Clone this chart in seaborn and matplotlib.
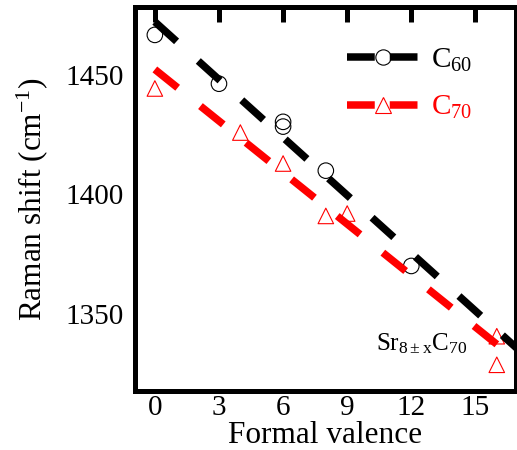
import matplotlib
matplotlib.use("Agg")
import matplotlib.pyplot as plt
from matplotlib.lines import Line2D
import numpy as np
import pandas as pd
import seaborn as sns

# measured points (formal valence vs Raman shift)
valence_c60 = [0, 3, 6, 6, 8, 12]
shift_c60 = [1467, 1446.5, 1430.5, 1428.5, 1410, 1370]
valence_c70 = [0, 4, 6, 8, 9, 16, 16]
shift_c70 = [1444.5, 1426, 1413, 1391, 1392, 1340.5, 1328.5]

# linear fits, end points
fit_x = [0, 17.5]
fit_c60 = [1472.5, 1330.9]
fit_c70 = [1452.5, 1326.3]

x_ticks = [0, 3, 6, 9, 12, 15]
y_ticks = [1350, 1400, 1450]

sns.set_theme(style="white")
plt.rcParams["font.family"] = ["Liberation Serif", "DejaVu Serif"]
plt.rcParams["mathtext.fontset"] = "custom"
plt.rcParams["mathtext.rm"] = "Liberation Serif"
plt.rcParams["mathtext.it"] = "Liberation Serif"
plt.rcParams["mathtext.default"] = "regular"
for key in ["text.color", "axes.labelcolor", "xtick.color", "ytick.color",
            "axes.edgecolor"]:
    plt.rcParams[key] = "black"

fig = plt.figure(figsize=(5.17, 4.5), dpi=100)
ax = fig.add_axes([0.2611, 0.1311, 0.737, 0.8533])

lw = 5.4
dash = (0, (3.9, 3.9))

sns.scatterplot(x=valence_c60, y=shift_c60, ax=ax, marker="o", s=125,
                facecolor="none", edgecolor="black", linewidth=0.8,
                zorder=2, legend=False)
sns.scatterplot(x=valence_c70, y=shift_c70, ax=ax, marker="^", s=125,
                facecolor="none", edgecolor="red", linewidth=0.8,
                zorder=2, legend=False)

sns.lineplot(x=fit_x, y=fit_c60, ax=ax, color="black", linewidth=lw,
             linestyle=dash, zorder=3, legend=False)
sns.lineplot(x=fit_x, y=fit_c70, ax=ax, color="red", linewidth=lw,
             linestyle=dash, zorder=3, legend=False)
for ln in ax.lines:
    ln.set_dash_capstyle("butt")

ax.set_xlim(-0.93, 16.9)
ax.set_ylim(1317.5, 1478.7)
ax.set_xticks(x_ticks)
ax.set_yticks(y_ticks)
ax.tick_params(axis="x", direction="in", length=11, width=3.6, top=True,
               labelsize=21, pad=3, color="black", labelcolor="black")
ax.tick_params(axis="y", length=0, labelsize=21, pad=8, labelcolor="black")
for sp in ax.spines.values():
    sp.set_linewidth(3.6)
    sp.set_color("black")

ax.set_xlabel("Formal valence", fontsize=22.5, labelpad=0, color="black")
ax.set_ylabel("Raman shift (cm$^{-1}$)", fontsize=22.5, labelpad=11,
              color="black")

handles = [
    Line2D([], [], color="black", lw=lw, linestyle=(0, (3.7, 2.0)),
           dash_capstyle="butt", marker="o", markersize=11,
           markerfacecolor="none", markeredgecolor="black", markeredgewidth=0.8),
    Line2D([], [], color="red", lw=lw, linestyle=(0, (3.7, 2.0)),
           dash_capstyle="butt", marker="^", markersize=11,
           markerfacecolor="none", markeredgecolor="red", markeredgewidth=0.8),
]
ax.legend(handles, ["C$_{60}$", "C$_{70}$"], loc="upper left",
          bbox_to_anchor=(0.556, 0.897), frameon=False, fontsize=21,
          labelcolor=["black", "red"], handlelength=2.45, handletextpad=0.45,
          labelspacing=0.7, borderpad=0, borderaxespad=0, numpoints=1)

ax.text(0.633, 0.107, "Sr$_{8\\pm x}$C$_{70}$", transform=ax.transAxes,
        fontsize=18, va="baseline", ha="left", color="black")

fig.savefig("out.png", dpi=100)
